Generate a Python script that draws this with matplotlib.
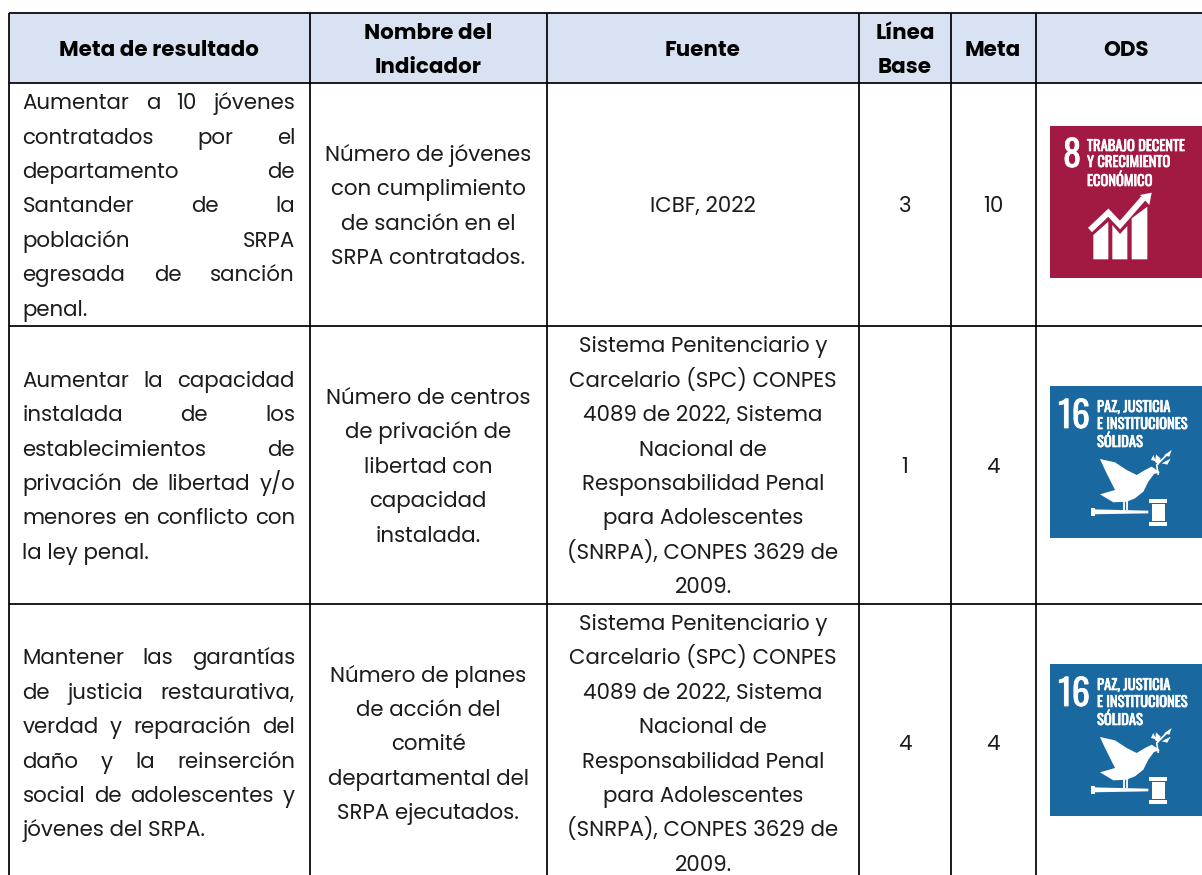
import matplotlib
matplotlib.use("Agg")
import matplotlib.pyplot as plt
from matplotlib.patches import Rectangle, Polygon
import matplotlib.patheffects as pe
import logging

logging.getLogger("matplotlib.font_manager").setLevel(logging.ERROR)

# table text
headers = [["Meta de resultado"], ["Nombre del", "Indicador"], ["Fuente"], ["Línea", "Base"], ["Meta"], ["ODS"]]
metas = [
    ["Aumentar a 10 jóvenes", "contratados por el", "departamento de", "Santander de la",
     "población SRPA", "egresada de sanción", "penal."],
    ["Aumentar la capacidad", "instalada de los", "establecimientos de", "privación de libertad y/o",
     "menores en conflicto con", "la ley penal."],
    ["Mantener las garantías", "de justicia restaurativa,", "verdad y reparación del", "daño y la reinserción",
     "social de adolescentes y", "jóvenes del SRPA."],
]
indicadores = [
    ["Número de jóvenes", "con cumplimiento", "de sanción en el", "SRPA contratados."],
    ["Número de centros", "de privación de", "libertad con", "capacidad", "instalada."],
    ["Número de planes", "de acción del", "comité", "departamental del", "SRPA ejecutados."],
]
fuente_larga = ["Sistema Penitenciario y", "Carcelario (SPC) CONPES", "4089 de 2022, Sistema", "Nacional de",
                "Responsabilidad Penal", "para Adolescentes", "(SNRPA), CONPES 3629 de", "2009."]
fuentes = [["ICBF, 2022"], fuente_larga, fuente_larga]
linea_base = ["3", "1", "4"]
meta = ["10", "4", "4"]
ods_8 = ["TRABAJO DECENTE", "Y CRECIMIENTO", "ECONÓMICO"]
ods_16 = ["PAZ, JUSTICIA", "E INSTITUCIONES", "SÓLIDAS"]

# layout in pixels
W, H = 1202, 875
col_lines = [8.5, 309.5, 547, 859, 951, 1036]
row_lines = [13, 82.5, 325.5, 603.5]
row_centers = [204, 464.5, 742]
col_centers = [159, 428, 703, 905, 993, 1126]
line_h = 34.4
base_off = 8.3
BODY = 15.4
HEAD = 15.4
TXT = "#1c1c1c"
FONT = ["Poppins", "Inter", "DejaVu Sans"]
NARROW = ["Oswald", "Liberation Sans Narrow", "Liberation Sans"]

fig = plt.figure(figsize=(W / 100, H / 100), dpi=100)
ax = fig.add_axes([0, 0, 1, 1])
ax.set_xlim(0, W)
ax.set_ylim(H, 0)
ax.axis("off")

ax.add_patch(Rectangle((8.5, 13), W - 8.5, 69.5, fc="#D9E2F3", ec="none", zorder=0))
for x in col_lines:
    ax.plot([x, x], [13, H], color="black", lw=1.25, solid_capstyle="butt", zorder=2)
for y in row_lines:
    ax.plot([8.5, W], [y, y], color="black", lw=1.25, solid_capstyle="butt", zorder=2)


def block(lines, cx, cy, **kw):
    y0 = cy - (len(lines) - 1) * line_h / 2 + base_off
    for i, s in enumerate(lines):
        ax.text(cx, y0 + i * line_h, s, ha="center", va="baseline", family=FONT, color=TXT, **kw)


def justified(lines, cy, left=22.5, right=295):
    renderer = fig.canvas.get_renderer()
    y0 = cy - (len(lines) - 1) * line_h / 2 + base_off
    for i, s in enumerate(lines):
        y = y0 + i * line_h
        if i == len(lines) - 1:
            ax.text(left, y, s, ha="left", va="baseline", family=FONT, fontsize=BODY, color=TXT)
            continue
        words = s.split(" ")
        items = [ax.text(left, y, w, ha="left", va="baseline", family=FONT, fontsize=BODY, color=TXT) for w in words]
        widths = [t.get_window_extent(renderer).width for t in items]
        gap = (right - left - sum(widths)) / (len(words) - 1)
        x = left
        for t, w in zip(items, widths):
            t.set_x(x)
            x += w + gap


def ods_icon(y0, color, num, lines, kind):
    x0 = 1050
    size = 152
    ax.add_patch(Rectangle((x0, y0), size, size - 0.5, fc=color, ec="none", zorder=1))

    # icon art is traced in a 456 unit box
    def pt(pts):
        return [(x0 + u / 3, y0 + v / 3) for u, v in pts]

    def poly(pts):
        ax.add_patch(Polygon(pt(pts), closed=True, fc="white", ec="none", zorder=3))

    def stroke(pts, lw):
        p = pt(pts)
        ax.plot([a[0] for a in p], [a[1] for a in p], color="white", lw=lw, zorder=3,
                solid_joinstyle="miter", solid_capstyle="butt")

    heavy = [pe.withStroke(linewidth=0.5, foreground="white")]
    if kind == 8:
        ax.text(x0 + 22, y0 + 41, num, ha="center", va="baseline", family=NARROW,
                fontsize=26, color="white", zorder=3, path_effects=heavy)
        tx = x0 + 37
        ty = [y0 + 25, y0 + 41, y0 + 60]
        poly([(130, 327), (175, 287), (175, 400), (130, 400)])
        poly([(187, 297), (210, 324), (232, 300), (232, 400), (187, 400)])
        poly([(245, 277), (292, 242), (292, 400), (245, 400)])
        stroke([(120, 312), (175, 260), (210, 297), (280, 217)], 4.2)
        poly([(270, 207), (305, 200), (298, 237)])
    else:
        ax.text(x0 + 24, y0 + 42, num, ha="center", va="baseline", family=NARROW,
                fontsize=26, color="white", zorder=3, path_effects=heavy)
        tx = x0 + 47
        ty = [y0 + 26, y0 + 43, y0 + 61]
        # dove
        poly([(150, 219), (195, 229), (230, 252), (260, 267), (285, 252), (305, 242), (320, 252), (330, 259),
              (312, 264), (295, 287), (280, 317), (255, 337), (230, 347), (190, 349), (150, 325), (195, 312),
              (180, 282), (165, 252)])
        stroke([(222, 345), (222, 372)], 1.3)
        stroke([(232, 345), (232, 372)], 1.3)
        # branch
        stroke([(325, 267), (320, 237), (350, 207)], 1.2)
        poly([(315, 228), (318, 205), (332, 218), (326, 236)])
        poly([(342, 208), (365, 192), (358, 212)])
        poly([(335, 232), (362, 218), (352, 236)])
        poly([(303, 222), (310, 207), (318, 226)])
        # gavel
        poly([(125, 370), (295, 374), (295, 382), (125, 385)])
        poly([(122, 367), (135, 367), (135, 389), (122, 389)])
        poly([(298, 339), (352, 339), (352, 352), (298, 352)])
        poly([(305, 355), (345, 355), (345, 404), (305, 404)])
        poly([(298, 407), (352, 407), (352, 419), (298, 419)])
    for s, y in zip(lines, ty):
        ax.text(tx, y, s, ha="left", va="baseline", family=NARROW, fontsize=10.5, color="white",
                zorder=3, path_effects=heavy)


for s, cx in zip(headers, col_centers):
    y0 = 48 - (len(s) - 1) * 17
    for i, t in enumerate(s):
        ax.text(cx, y0 + i * 34 + 8, t, ha="center", va="baseline", family=FONT, weight="bold",
                fontsize=HEAD, color="black")

for i in range(3):
    justified(metas[i], row_centers[i])
    block(indicadores[i], col_centers[1], row_centers[i], fontsize=BODY)
    block(fuentes[i], col_centers[2], row_centers[i], fontsize=BODY)
    block([linea_base[i]], col_centers[3], row_centers[i], fontsize=BODY)
    block([meta[i]], col_centers[4], row_centers[i], fontsize=BODY)

ods_icon(126, "#A21942", "8", ods_8, 8)
ods_icon(386, "#19689F", "16", ods_16, 16)
ods_icon(664, "#19689F", "16", ods_16, 16)

fig.savefig("out.png", dpi=100)
